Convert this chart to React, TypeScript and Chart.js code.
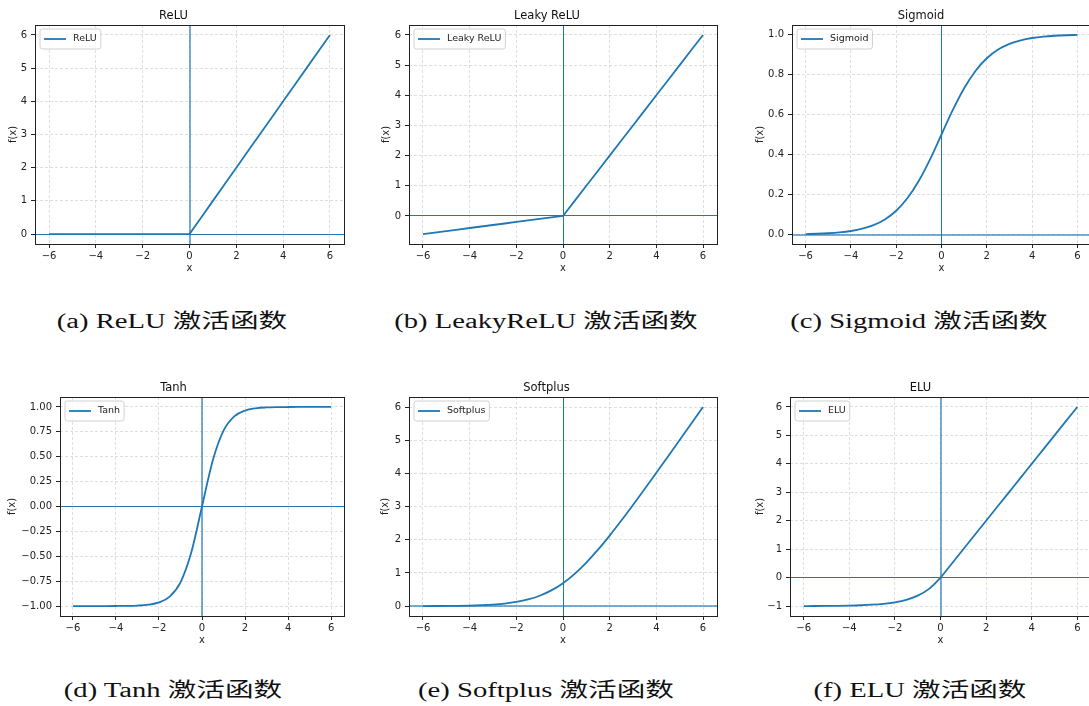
import React, { useEffect, useRef } from "react";
import { Chart, registerables } from "chart.js";

Chart.register(...registerables);

// ---------- data ----------
const xValues = [-6, -5.5, -5, -4.5, -4, -3.5, -3, -2.5, -2, -1.5, -1, -0.5, 0, 0.5, 1, 1.5, 2, 2.5, 3, 3.5, 4, 4.5, 5, 5.5, 6];

const reluValues = [0, 0, 0, 0, 0, 0, 0, 0, 0, 0, 0, 0, 0, 0.5, 1, 1.5, 2, 2.5, 3, 3.5, 4, 4.5, 5, 5.5, 6];
const leakyReluValues = [-0.6, -0.55, -0.5, -0.45, -0.4, -0.35, -0.3, -0.25, -0.2, -0.15, -0.1, -0.05, 0, 0.5, 1, 1.5, 2, 2.5, 3, 3.5, 4, 4.5, 5, 5.5, 6];
const sigmoidValues = [0.0025, 0.0041, 0.0067, 0.011, 0.018, 0.0293, 0.0474, 0.0759, 0.1192, 0.1824, 0.2689, 0.3775, 0.5, 0.6225, 0.7311, 0.8176, 0.8808, 0.9241, 0.9526, 0.9707, 0.982, 0.989, 0.9933, 0.9959, 0.9975];
const tanhValues = [-1, -1, -0.9999, -0.9998, -0.9993, -0.9982, -0.9951, -0.9866, -0.964, -0.9051, -0.7616, -0.4621, 0, 0.4621, 0.7616, 0.9051, 0.964, 0.9866, 0.9951, 0.9982, 0.9993, 0.9998, 0.9999, 1, 1];
const softplusValues = [0.0025, 0.0041, 0.0067, 0.0111, 0.0181, 0.0298, 0.0486, 0.0789, 0.1269, 0.2014, 0.3133, 0.4741, 0.6931, 0.9741, 1.3133, 1.7014, 2.1269, 2.5789, 3.0486, 3.5298, 4.0181, 4.5111, 5.0067, 5.5041, 6.0025];
const eluValues = [-0.9975, -0.9959, -0.9933, -0.9889, -0.9817, -0.9698, -0.9502, -0.9179, -0.8647, -0.7769, -0.6321, -0.3935, 0, 0.5, 1, 1.5, 2, 2.5, 3, 3.5, 4, 4.5, 5, 5.5, 6];

const xTicks = [-6, -4, -2, 0, 2, 4, 6];
const yTicksLinear = [0, 1, 2, 3, 4, 5, 6];
const yTicksElu = [-1, 0, 1, 2, 3, 4, 5, 6];
const yTicksSigmoid = [0, 0.2, 0.4, 0.6, 0.8, 1.0];
const yTicksTanh = [-1, -0.75, -0.5, -0.25, 0, 0.25, 0.5, 0.75, 1];

const titles = ["ReLU", "Leaky ReLU", "Sigmoid", "Tanh", "Softplus", "ELU"];
const captions = ["(a) ReLU 激活函数", "(b) LeakyReLU 激活函数", "(c) Sigmoid 激活函数", "(d) Tanh 激活函数", "(e) Softplus 激活函数", "(f) ELU 激活函数"];
const xLimits = [-6.6, 6.6];
const yLimitsList = [[-0.3, 6.3], [-0.93, 6.33], [-0.047, 1.047], [-1.1, 1.1], [-0.297, 6.303], [-1.347, 6.35]];

// ---------- layout / style ----------
const FONT = '"DejaVu Sans", sans-serif';
const BLUE = "#1f77b4";
const TITLE_H = 25;
const XAXIS_H = 32;
const TICK_SIZE = 10;
const LABEL_SIZE = 10;
const LEGEND_SIZE = 9.5;
const TITLE_SIZE = 11.5;

type PanelSpec = {
  values: number[];
  yTicks: number[];
  dec: number;
  smooth: boolean;
  L: number; R: number; T: number; B: number;
  labelX: number;
  vWide: boolean; hWide: boolean;
  capX: number; capY: number;
};

const panels: PanelSpec[] = [
  { values: reluValues, yTicks: yTicksLinear, dec: 0, smooth: false, L: 35, R: 344, T: 25, B: 244, labelX: 13, vWide: true, hWide: false, capX: 172, capY: 321 },
  { values: leakyReluValues, yTicks: yTicksLinear, dec: 0, smooth: false, L: 409, R: 717, T: 25, B: 244, labelX: 386.7, vWide: false, hWide: false, capX: 546, capY: 321 },
  { values: sigmoidValues, yTicks: yTicksSigmoid, dec: 1, smooth: true, L: 792, R: 1091, T: 25, B: 244, labelX: 760.7, vWide: false, hWide: true, capX: 919, capY: 321 },
  { values: tanhValues, yTicks: yTicksTanh, dec: 2, smooth: true, L: 60, R: 344, T: 397, B: 616, labelX: 12.7, vWide: true, hWide: false, capX: 173, capY: 690 },
  { values: softplusValues, yTicks: yTicksLinear, dec: 0, smooth: true, L: 409, R: 717, T: 397, B: 616, labelX: 385.7, vWide: false, hWide: true, capX: 546, capY: 690 },
  { values: eluValues, yTicks: yTicksElu, dec: 0, smooth: true, L: 790, R: 1091, T: 397, B: 616, labelX: 760, vWide: true, hWide: false, capX: 920, capY: 690 },
];

function fmt(v: number, dec: number) {
  const s = Math.abs(v).toFixed(dec);
  return v < 0 ? "\u2212" + s : s;
}

const zeroLinesPlugin = {
  id: "zeroLines",
  beforeDatasetsDraw(chart: any, _args: any, opts: any) {
    const { ctx, chartArea, scales } = chart;
    const x0 = scales.x.getPixelForValue(0);
    const y0 = scales.y.getPixelForValue(0);
    ctx.save();
    if (opts.vWide) {
      ctx.strokeStyle = "rgba(31,119,180,0.6)";
      ctx.lineWidth = 2;
      const xx = Math.round(x0);
      ctx.beginPath(); ctx.moveTo(xx, chartArea.top); ctx.lineTo(xx, chartArea.bottom); ctx.stroke();
    } else {
      ctx.strokeStyle = BLUE;
      ctx.lineWidth = 1;
      const xx = Math.floor(x0) + 0.5;
      ctx.beginPath(); ctx.moveTo(xx, chartArea.top); ctx.lineTo(xx, chartArea.bottom); ctx.stroke();
    }
    if (opts.hWide) {
      ctx.strokeStyle = "rgba(31,119,180,0.6)";
      ctx.lineWidth = 2;
      const yy = Math.round(y0);
      ctx.beginPath(); ctx.moveTo(chartArea.left, yy); ctx.lineTo(chartArea.right, yy); ctx.stroke();
    } else {
      ctx.strokeStyle = BLUE;
      ctx.lineWidth = 1;
      const yy = Math.floor(y0) + 0.5;
      ctx.beginPath(); ctx.moveTo(chartArea.left, yy); ctx.lineTo(chartArea.right, yy); ctx.stroke();
    }
    ctx.restore();
  },
};

const framePlugin = {
  id: "frame",
  afterDatasetsDraw(chart: any) {
    const { ctx, chartArea } = chart;
    const l = Math.round(chartArea.left), t = Math.round(chartArea.top);
    const r = Math.round(chartArea.right), b = Math.round(chartArea.bottom);
    ctx.save();
    ctx.strokeStyle = "#222";
    ctx.lineWidth = 1;
    ctx.strokeRect(l + 0.5, t + 0.5, r - l, b - t);
    ctx.restore();
  },
};

const boxLegendPlugin = {
  id: "boxLegend",
  afterDraw(chart: any) {
    const { ctx, chartArea } = chart;
    const label = chart.data.datasets[0].label as string;
    ctx.save();
    ctx.font = `${LEGEND_SIZE}px ${FONT}`;
    const tw = ctx.measureText(label).width;
    const x0 = chartArea.left + 5;
    const y0 = chartArea.top + 4;
    const w = 33 + tw + 4;
    const h = 20;
    const r = 2.5;
    ctx.beginPath();
    ctx.moveTo(x0 + r, y0);
    ctx.lineTo(x0 + w - r, y0);
    ctx.arcTo(x0 + w, y0, x0 + w, y0 + r, r);
    ctx.lineTo(x0 + w, y0 + h - r);
    ctx.arcTo(x0 + w, y0 + h, x0 + w - r, y0 + h, r);
    ctx.lineTo(x0 + r, y0 + h);
    ctx.arcTo(x0, y0 + h, x0, y0 + h - r, r);
    ctx.lineTo(x0, y0 + r);
    ctx.arcTo(x0, y0, x0 + r, y0, r);
    ctx.closePath();
    ctx.fillStyle = "rgba(255,255,255,0.8)";
    ctx.fill();
    ctx.strokeStyle = "#d0d0d0";
    ctx.lineWidth = 1;
    ctx.stroke();
    ctx.strokeStyle = BLUE;
    ctx.lineWidth = 1.8;
    ctx.beginPath();
    ctx.moveTo(x0 + 4, y0 + 10);
    ctx.lineTo(x0 + 26, y0 + 10);
    ctx.stroke();
    ctx.fillStyle = "#222";
    ctx.textBaseline = "middle";
    ctx.textAlign = "left";
    ctx.fillText(label, x0 + 33, y0 + 10);
    ctx.restore();
  },
};

function Panel({ idx }: { idx: number }) {
  const ref = useRef<HTMLCanvasElement>(null);
  const p = panels[idx];
  const yW = Math.round(p.L - p.labelX + 10);
  const canvasLeft = p.L - yW;
  const canvasTop = p.T - TITLE_H;
  const rightPad = 4;
  const width = p.R - p.L + yW + rightPad;
  const height = TITLE_H + (p.B - p.T) + XAXIS_H;
  const labelLH = LABEL_SIZE * 1.2;
  const yTitlePad = p.labelX - canvasLeft - labelLH / 2;
  const titleLH = TITLE_SIZE * 1.2;

  useEffect(() => {
    if (!ref.current) return;
    const tickFont = { family: FONT, size: TICK_SIZE };
    const chart = new Chart(ref.current, {
      type: "line",
      data: {
        datasets: [
          {
            label: titles[idx],
            data: xValues.map((x, i) => ({ x, y: p.values[i] })),
            borderColor: BLUE,
            borderWidth: 1.8,
            pointRadius: 0,
            fill: false,
            tension: 0,
            cubicInterpolationMode: p.smooth ? "monotone" : "default",
          } as any,
        ],
      },
      options: {
        responsive: false,
        animation: false,
        devicePixelRatio: 1,
        layout: { padding: { left: 0, right: rightPad, top: 0, bottom: 0 } },
        plugins: {
          legend: { display: false },
          tooltip: { enabled: false },
          title: {
            display: true,
            text: titles[idx],
            color: "#111",
            font: { family: FONT, size: TITLE_SIZE, weight: "normal", lineHeight: 1.2 },
            padding: { top: 9.4, bottom: TITLE_H - 9.4 - titleLH },
          },
          zeroLines: { vWide: p.vWide, hWide: p.hWide },
        } as any,
        scales: {
          x: {
            type: "linear",
            min: xLimits[0],
            max: xLimits[1],
            afterBuildTicks: (s: any) => { s.ticks = xTicks.map((v) => ({ value: v })); },
            afterFit: (s: any) => { s.height = XAXIS_H; s.paddingLeft = 0; s.paddingRight = 0; },
            grid: { color: "rgba(176,176,176,0.5)", lineWidth: 0.8, drawTicks: true, tickLength: 4, tickColor: "#222", tickWidth: 1, tickBorderDash: [] },
            border: { display: false, dash: [3, 2] },
            ticks: { autoSkip: false, maxRotation: 0, padding: 2.5, color: "#222", font: tickFont, callback: (v: any) => fmt(Number(v), 0) },
            title: { display: true, text: "x", color: "#222", font: { family: FONT, size: LABEL_SIZE, lineHeight: 1.2 }, padding: { top: 0, bottom: 2 } },
          },
          y: {
            type: "linear",
            min: yLimitsList[idx][0],
            max: yLimitsList[idx][1],
            afterBuildTicks: (s: any) => { s.ticks = p.yTicks.map((v) => ({ value: v })); },
            afterFit: (s: any) => { s.width = yW; s.paddingTop = 0; s.paddingBottom = 0; },
            grid: { color: "rgba(176,176,176,0.5)", lineWidth: 0.8, drawTicks: true, tickLength: 4, tickColor: "#222", tickWidth: 1, tickBorderDash: [] },
            border: { display: false, dash: [3, 2] },
            ticks: { autoSkip: false, padding: 4, color: "#222", font: tickFont, callback: (v: any) => fmt(Number(v), p.dec) },
            title: { display: true, text: "f(x)", color: "#222", font: { family: FONT, size: LABEL_SIZE, lineHeight: 1.2 }, padding: { top: yTitlePad, bottom: 0 } },
          },
        },
      } as any,
      plugins: [zeroLinesPlugin, framePlugin, boxLegendPlugin],
    });
    return () => chart.destroy();
  }, []);

  return (
    <canvas
      ref={ref}
      width={width}
      height={height}
      style={{ position: "absolute", left: canvasLeft, top: canvasTop, width, height }}
    />
  );
}

export default function App() {
  return (
    <div
      style={{
        position: "fixed",
        left: 0,
        top: 0,
        width: 1089,
        height: 706,
        overflow: "hidden",
        background: "#fff",
      }}
    >
      {panels.map((_, i) => (
        <Panel key={i} idx={i} />
      ))}
      {panels.map((p, i) => (
        <div
          key={"c" + i}
          style={{
            position: "absolute",
            left: p.capX,
            top: p.capY - 10,
            transform: "translateX(-50%) scaleX(1.43)",
            transformOrigin: "center",
            whiteSpace: "nowrap",
            fontFamily: '"Liberation Serif", "Noto Sans CJK SC", serif',
            fontSize: 20,
            lineHeight: "20px",
            color: "#111",
          }}
        >
          {captions[i]}
        </div>
      ))}
    </div>
  );
}
